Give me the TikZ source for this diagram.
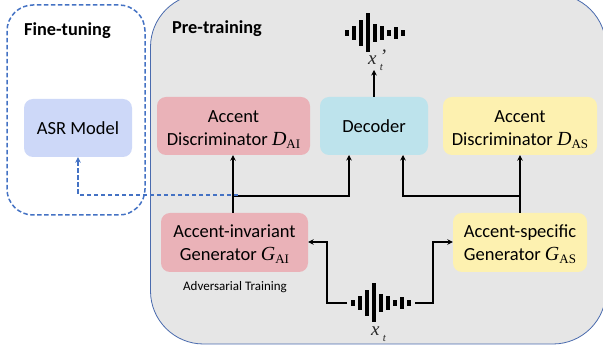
\documentclass[tikz,border=0pt]{standalone}
\usepackage{fontspec}
\setmainfont{Carlito}
\newfontfamily\serifmath{Liberation Serif}
\usetikzlibrary{arrows.meta,calc}
\newcommand{\symsub}[2]{{\serifmath\itshape\fontsize{20}{22}\selectfont #1}\raisebox{-3pt}{\serifmath\fontsize{13}{14}\selectfont #2}}
\newcommand{\tsub}{\raisebox{-6pt}{\fontsize{11}{12}\selectfont t}}
\tikzset{
  box/.style={rounded corners=9pt,inner sep=0pt,align=center,font=\fontsize{18.5}{23}\selectfont,text=black},
  pinkb/.style={box,fill=pinkfill},
  yellowb/.style={box,fill=yellowfill},
  link/.style={draw=black,line width=1.5pt},
  arr/.style={link,-{Stealth[length=5.5pt,width=5.5pt]}},
  bluedash/.style={draw=dashblue,line width=1.5pt,dash pattern=on 4.5pt off 2.5pt},
  heading/.style={font=\bfseries\fontsize{18.3}{20}\selectfont,inner sep=0pt},
  varlabel/.style={font=\serifmath\itshape\fontsize{19}{20}\selectfont,inner sep=0pt,text=black!85},
  pics/waveform/.style={code={
    \foreach \dx/\hh in {-21/3.3,-14/6.7,-7/12.7,0/19.5,7/9.3,13.7/6.7,21/3.3,27.7/6,34.7/3.3}
      \fill[black] (\dx-2,-\hh) rectangle (\dx+2,\hh);
  }}
}
\definecolor{panelfill}{HTML}{E6E6E6}
\definecolor{panelline}{HTML}{4A6BAE}
\definecolor{dashblue}{HTML}{4472C4}
\definecolor{pinkfill}{HTML}{EAB2B8}
\definecolor{yellowfill}{HTML}{FDF1B0}
\definecolor{bluefill}{HTML}{BDE3EC}
\definecolor{asrfill}{HTML}{CDD8F8}
\begin{document}
\begin{tikzpicture}[x=1pt,y=-1pt]
\useasboundingbox (0,0) rectangle (603,352);
\clip (0,0) rectangle (603,352);
\fill[white] (0,0) rectangle (603,352);
% panels
\draw[panelline,fill=panelfill,line width=0.8pt,rounded corners=53pt] (150.5,-6) rectangle (606,344);
\draw[bluedash,rounded corners=26pt] (7,5) rectangle (145,215);
% headings
\node[heading,anchor=base west] (fine) at (24,36) {Fine-tuning};
\node[heading,anchor=base west] (pre) at (172,33.5) {Pre-training};
% boxes
\node[box,fill=asrfill,minimum width=108pt,minimum height=58pt] (asr) at (78,128) {ASR Model};
\node[pinkb,minimum width=153pt,minimum height=58pt] (dai) at (233.5,126) {\rule{0pt}{20pt}Accent\\Discriminator \symsub{D}{AI}};
\node[box,fill=bluefill,minimum width=108pt,minimum height=58pt] (dec) at (374,126) {\rule{0pt}{14pt}Decoder};
\node[yellowb,minimum width=154pt,minimum height=58pt] (das) at (520,126) {\rule{0pt}{20pt}Accent\\Discriminator \symsub{D}{AS}};
\node[pinkb,minimum width=147pt,minimum height=59pt] (gai) at (234.5,242.5) {\rule{0pt}{17pt}Accent-invariant\\Generator \symsub{G}{AI}};
\node[yellowb,minimum width=134pt,minimum height=59pt] (gas) at (520,242.5) {\rule{0pt}{17pt}Accent-specific\\Generator \symsub{G}{AS}};
\node[font=\fontsize{13}{15}\selectfont,inner sep=0pt] (adv) at (235,287.5) {Adversarial Training};
% waveforms
\pic at (368,33) {waveform};
\pic at (374,303) {waveform};
\coordinate (topwave) at (374,70);
\coordinate (wl) at (347,303);
\coordinate (wr) at (415,303);
\node[varlabel,anchor=base west] (xp) at (368,65) {x\,\rlap{\raisebox{2pt}{’}}\tsub};
\node[varlabel,anchor=base west] (x) at (371,336) {x\,\tsub};
% junctions
\coordinate (jl) at (233,196);
\coordinate (jr) at (520,196);
\coordinate (dl) at (349,155);
\coordinate (dr) at (403,155);
\coordinate (kl) at (327,242);
\coordinate (kr) at (433,242);
\coordinate (jb) at (238,195);
\coordinate (ab) at (78,166);
% black connectors
\draw[arr] (gai.north -| jl) -- (dai.south -| jl);
\draw[arr] (jl) -| (dl);
\draw[arr] (gas.north) -- (das.south -| gas.north);
\draw[arr] (jr) -| (dr);
\draw[arr] (dec.north) -- (topwave);
\draw[arr] (wl) -| (kl) -- (gai.east |- kl);
\draw[arr] (wr) -| (kr) -- (gas.west |- kr);
% blue dashed connector
\draw[bluedash] (jb) -| (ab);
\draw[draw=dashblue,line width=1.5pt,-{Stealth[length=5.5pt,width=5.5pt]}] (ab) -- (asr.south);
\end{tikzpicture}
\end{document}
